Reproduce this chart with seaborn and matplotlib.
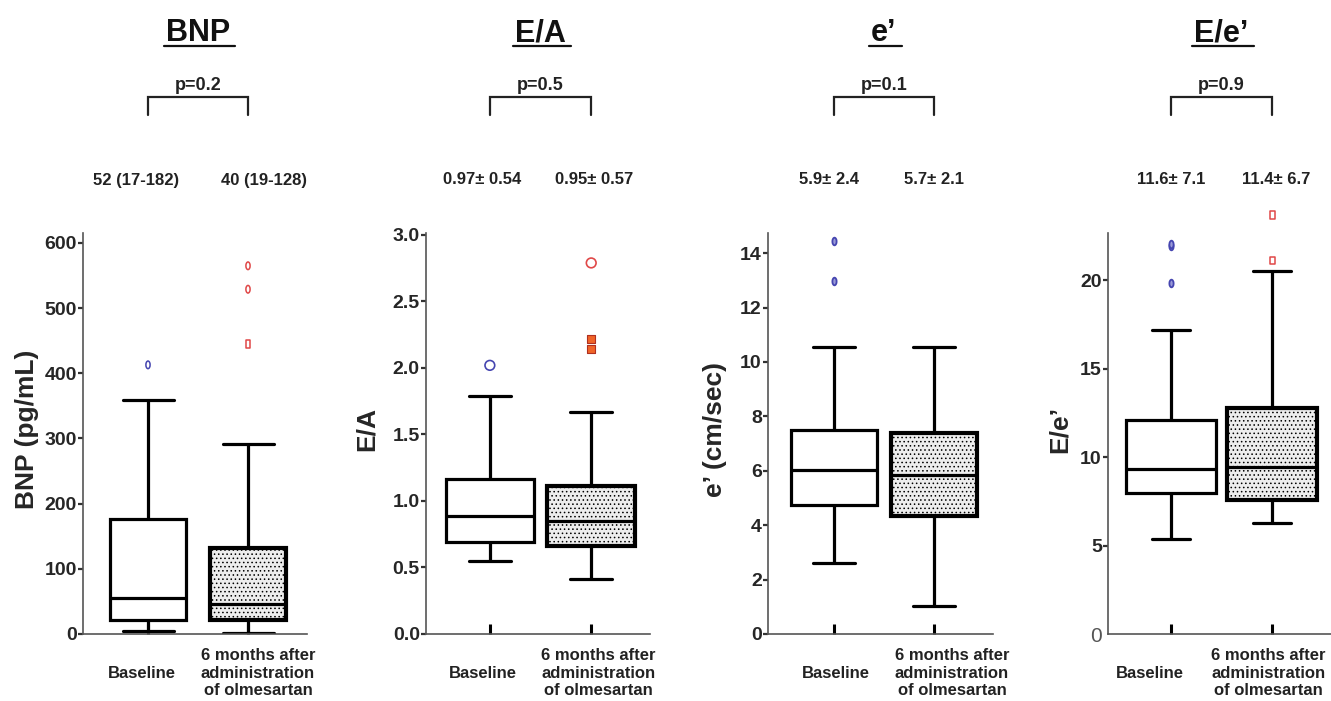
import numpy as np
import pandas as pd
import matplotlib
matplotlib.use("Agg")
import matplotlib.pyplot as plt
from matplotlib.lines import Line2D
from matplotlib.path import Path
from matplotlib.transforms import Affine2D, blended_transform_factory
import seaborn as sns

# ---------------- data ----------------
groups = ["Baseline", "6 months after\nadministration\nof olmesartan"]
titles = ["BNP", "E/A", "e\u2019", "E/e\u2019"]
ylabels = ["BNP (pg/mL)", "E/A", "e\u2019 (cm/sec)", "E/e\u2019"]
p_labels = ["p=0.2", "p=0.5", "p=0.1", "p=0.9"]
summary_base = ["52 (17-182)", "0.97\u00b1 0.54", "5.9\u00b1 2.4", "11.6\u00b1 7.1"]
summary_post = ["40 (19-128)", "0.95\u00b1 0.57", "5.7\u00b1 2.1", "11.4\u00b1 6.7"]

# five-number summaries: lower whisker, Q1, median, Q3, upper whisker
bnp_base = [4, 21, 55, 176, 359]
bnp_post = [2, 22, 46, 132, 291]
ea_base = [0.55, 0.69, 0.89, 1.165, 1.79]
ea_post = [0.41, 0.66, 0.85, 1.11, 1.67]
e_base = [2.6, 4.74, 6.03, 7.5, 10.55]
e_post = [1.03, 4.34, 5.85, 7.39, 10.55]
ee_base = [5.37, 7.97, 9.32, 12.1, 17.2]
ee_post = [6.27, 7.57, 9.44, 12.77, 20.5]

# outliers
bnp_base_out = [413]
bnp_post_out_oval = [565, 529]
bnp_post_out_rect = [445]
ea_base_out = [2.02]
ea_post_out_circle = [2.79]
ea_post_out_square = [2.22, 2.14]
e_base_out = [14.45, 12.98]
ee_base_out = [21.9, 22.05, 19.83]
ee_post_out = [23.67, 21.1]

yticks = [
    [0, 100, 200, 300, 400, 500, 600],
    [0.0, 0.5, 1.0, 1.5, 2.0, 2.5, 3.0],
    [0, 2, 4, 6, 8, 10, 12, 14],
    [0, 5, 10, 15, 20],
]

# ---------------- layout / style ----------------
W, H = 1331, 701
AX_TOP, AX_BOTTOM = 233, 634
layout = [
    dict(left=83, right=307, xlim=(-0.65, 1.59), ytop=615.3, width=0.76, cap=0.51,
         sx=(-0.12, 1.16), lx=(-0.06, 0.10), ylx=-0.25),
    dict(left=426, right=650, xlim=(-0.63, 1.58), ytop=3.015, width=0.87, cap=0.41,
         sx=(-0.08, 1.03), lx=(-0.07, 0.07), ylx=-0.263),
    dict(left=768, right=993, xlim=(-0.66, 1.59), ytop=14.74, width=0.86, cap=0.42,
         sx=(-0.05, 1.0), lx=(0.02, 0.18), ylx=-0.236),
    dict(left=1108, right=1331, xlim=(-0.62, 1.58), ytop=22.66, width=0.89, cap=0.38,
         sx=(0.0, 1.04), lx=(-0.21, -0.04), ylx=-0.215),
]

oval = Path.unit_circle().transformed(Affine2D().scale(0.55, 1.0))
rect = Path.unit_rectangle().transformed(Affine2D().translate(-0.5, -0.5).scale(0.6, 1.0))
BLUE = "#4545b0"
RED = "#e04848"
ORANGE = "#f06428"

box_data = [(bnp_base, bnp_post), (ea_base, ea_post), (e_base, e_post), (ee_base, ee_post)]
outlier_sets = [
    [(0, bnp_base_out, oval, "none", BLUE, 5.5, 1.1),
     (1, bnp_post_out_oval, oval, "none", RED, 5.5, 1.1),
     (1, bnp_post_out_rect, rect, "none", RED, 5.5, 1.1)],
    [(0, ea_base_out, "o", "none", BLUE, 7, 1.2),
     (1, ea_post_out_circle, "o", "none", RED, 7, 1.2),
     (1, ea_post_out_square, "s", ORANGE, "#b03020", 6, 0.8)],
    [(0, e_base_out, oval, "#9a9ad8", BLUE, 5.5, 1.3)],
    [(0, ee_base_out, oval, "#9a9ad8", BLUE, 5.5, 1.3),
     (1, ee_post_out, rect, "none", RED, 5.5, 1.1)],
]

sns.set_theme(style="ticks")
plt.rcParams["font.family"] = ["Liberation Sans", "DejaVu Sans"]
plt.rcParams["font.weight"] = "bold"
plt.rcParams["hatch.color"] = "#444444"
plt.rcParams["hatch.linewidth"] = 0.6

fig = plt.figure(figsize=(W / 100, H / 100), dpi=100)
fig.patch.set_facecolor("white")


def fy(px):
    return 1 - px / H


title_texts = []
for i, (lay, (b, p)) in enumerate(zip(layout, box_data)):
    ax = fig.add_axes([lay["left"] / W, (H - AX_BOTTOM) / H,
                       (lay["right"] - lay["left"]) / W, (AX_BOTTOM - AX_TOP) / H])
    ax.set_facecolor("white")
    df = pd.DataFrame({"group": [groups[0]] * len(b) + [groups[1]] * len(p),
                       "value": b + p})
    sns.boxplot(data=df, x="group", y="value", hue="group", order=groups, hue_order=groups,
                palette={groups[0]: "white", groups[1]: "#ededed"}, saturation=1,
                whis=(0, 100), width=lay["width"], capwidths=lay["cap"],
                linewidth=2.3, linecolor="black", showfliers=False, legend=False, ax=ax)
    if len(ax.patches) > 1:
        ax.patches[1].set_hatch("....")
        ax.patches[1].set_linewidth(3.0)

    for gi, vals, marker, fc, ec, size, lw in outlier_sets[i]:
        d = pd.DataFrame({"group": [groups[gi]] * len(vals), "value": vals})
        before = list(ax.collections)
        sns.stripplot(data=d, x="group", y="value", order=groups, jitter=False,
                      marker=marker, size=size, color=ec, facecolor=fc, edgecolor=ec,
                      linewidth=lw, ax=ax, zorder=5)
        for coll in list(ax.collections):
            if coll in before:
                continue
            if len(coll.get_offsets()) == 0:
                coll.remove()
            else:
                coll.set_clip_on(False)

    ax.set_xlim(*lay["xlim"])
    ax.set_ylim(0, lay["ytop"])
    ax.set_yticks(yticks[i])
    ax.set_xticks([0, 1])
    ax.set_xticklabels(["", ""])
    ax.set_xlabel("")
    ax.set_ylabel(ylabels[i], fontsize=19, fontweight="bold")
    ax.yaxis.label.set_verticalalignment("center")
    ax.yaxis.set_label_coords(lay["ylx"], 0.51)
    sns.despine(ax=ax)
    for s in ["left", "bottom"]:
        ax.spines[s].set_color("#555555")
        ax.spines[s].set_linewidth(1.2)
    ax.tick_params(axis="y", direction="out", length=3.5, width=1.6, color="#333333",
                   pad=1, labelsize=14)
    ax.tick_params(axis="x", direction="in", length=7, width=2.2, color="black")
    for lbl in ax.get_yticklabels():
        lbl.set_fontweight("bold")
    if i == 3:
        t0 = ax.yaxis.get_major_ticks()[0]
        t0.tick1line.set_visible(False)
        t0.label1.set_fontweight("normal")
        t0.label1.set_color("#555555")
        t0.label1.set_fontsize(15)

    tr = blended_transform_factory(ax.transData, fig.transFigure)
    tt = ax.text(0.5, fy(33), titles[i], transform=tr, ha="center", va="center",
                 fontsize=22, fontweight="bold", color="#111111")
    title_texts.append(tt)
    ax.text(0.5, fy(90), p_labels[i], transform=tr, ha="center", va="baseline",
            fontsize=13, fontweight="bold", color="#222222")
    ax.plot([0, 0, 1, 1], [fy(115), fy(97), fy(97), fy(115)], transform=tr,
            color="#222222", lw=1.6, clip_on=False, solid_joinstyle="miter")
    ax.text(lay["sx"][0], fy(180), summary_base[i], transform=tr, ha="center",
            va="center", fontsize=12, fontweight="bold", color="#222222")
    ax.text(lay["sx"][1], fy(180), summary_post[i], transform=tr, ha="center",
            va="center", fontsize=12, fontweight="bold", color="#222222")
    ax.text(lay["lx"][0], fy(673), groups[0], transform=tr, ha="center", va="center",
            fontsize=12, fontweight="bold", color="#222222")
    ax.text(1 + lay["lx"][1], fy(673), groups[1], transform=tr, ha="center", va="center",
            fontsize=12, fontweight="bold", color="#222222", linespacing=1.2)

fig.canvas.draw()
renderer = fig.canvas.get_renderer()
for tt in title_texts:
    bb = tt.get_window_extent(renderer)
    fig.add_artist(Line2D([(bb.x0 - 2) / W, (bb.x1 + 5) / W], [fy(46), fy(46)],
                          transform=fig.transFigure, color="#111111", lw=1.6))

fig.savefig("out.png", dpi=100, facecolor="white")
